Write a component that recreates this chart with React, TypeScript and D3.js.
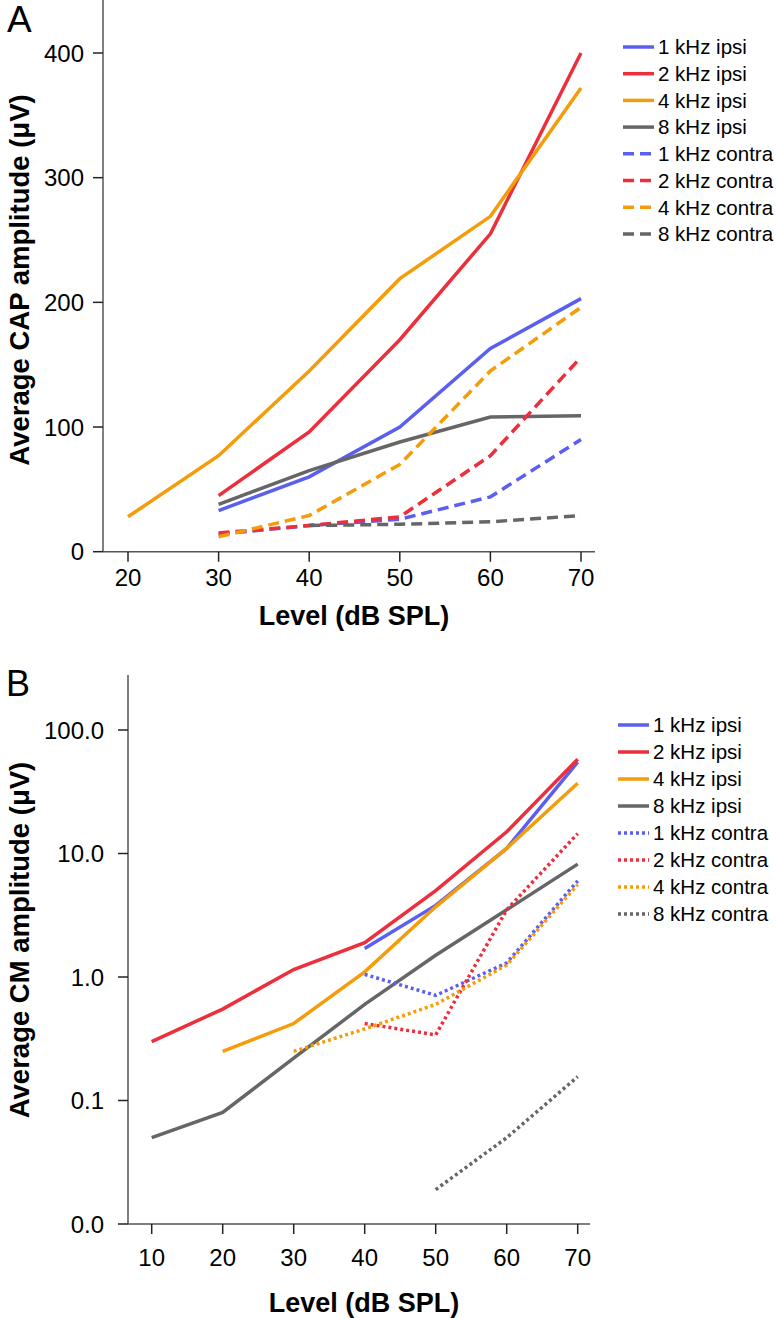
import React from "react";
import * as d3 from "d3";

// ---- data ----
const seriesNames = ["1 kHz ipsi", "2 kHz ipsi", "4 kHz ipsi", "8 kHz ipsi", "1 kHz contra", "2 kHz contra", "4 kHz contra", "8 kHz contra"];
const seriesColors = ["#5b5ff0", "#ec2f3b", "#f59c0a", "#666666", "#5b5ff0", "#ec2f3b", "#f59c0a", "#666666"];

// Panel A: CAP amplitude (µV)
const capLevels = [20, 30, 40, 50, 60, 70];
const cap1Ipsi = [null, 33, 60, 100, 163, 203];
const cap2Ipsi = [null, 45, 96, 170, 255, 400];
const cap4Ipsi = [28, 77, 145, 219, 269, 372];
const cap8Ipsi = [null, 38, 65, 88, 108, 109];
const cap1Contra = [null, 14, 21, 26, 44, 90];
const cap2Contra = [null, 15, 21, 28, 77, 156];
const cap4Contra = [null, 12, 29, 70, 145, 196];
const cap8Contra = [null, null, 21, 22, 24, 29];
const capTicks = [0, 100, 200, 300, 400];

// Panel B: CM amplitude (µV), log
const cmLevels = [10, 20, 30, 40, 50, 60, 70];
const cm1Ipsi = [null, null, null, 1.7, 3.8, 11, 55];
const cm2Ipsi = [0.3, 0.55, 1.15, 1.9, 5, 15, 58];
const cm4Ipsi = [null, 0.25, 0.42, 1.1, 3.7, 11, 37];
const cm8Ipsi = [0.05, 0.08, 0.22, 0.6, 1.5, 3.5, 8.2];
const cm1Contra = [null, null, null, 1.05, 0.71, 1.3, 6];
const cm2Contra = [null, null, null, 0.42, 0.34, 3.5, 14.5];
const cm4Contra = [null, null, 0.25, 0.38, 0.6, 1.25, 5.6];
const cm8Contra = [null, null, null, null, 0.019, 0.05, 0.156];
const cmTicks = [0.01, 0.1, 1, 10, 100];

const capSeries = [cap1Ipsi, cap2Ipsi, cap4Ipsi, cap8Ipsi, cap1Contra, cap2Contra, cap4Contra, cap8Contra];
const cmSeries = [cm1Ipsi, cm2Ipsi, cm4Ipsi, cm8Ipsi, cm1Contra, cm2Contra, cm4Contra, cm8Contra];

const FONT = "'Liberation Sans', Arial, Helvetica, sans-serif";

function Legend({ x, y, step, dash }: { x: number; y: number; step: number; dash: string }) {
  return (
    <g transform={`translate(${x},${y})`}>
      {seriesNames.map((name, i) => (
        <g key={name} transform={`translate(0,${i * step})`}>
          <line x1={0} x2={31} y1={0} y2={0} stroke={seriesColors[i]} strokeWidth={3.5}
            strokeDasharray={i >= 4 ? dash : undefined} />
          <text x={35} y={0} dy="0.36em" fontSize={20.5} fontFamily={FONT}>{name}</text>
        </g>
      ))}
    </g>
  );
}

export default function App() {
  // Panel A scales
  const xA = d3.scaleLinear().domain([20, 70]).range([128, 581]);
  const yA = d3.scaleLinear().domain([0, 400]).range([551.7, 53]);
  const axisALeft = 103;
  const axisABottom = 551.7;

  // Panel B scales
  const xB = d3.scaleLinear().domain([10, 70]).range([151.7, 577.7]);
  const yB = d3.scaleLog().domain([0.01, 100]).range([1224, 730]);
  const axisBLeft = 128;
  const axisBBottom = 1224;

  const lineA = d3.line<[number, number | null]>()
    .defined((d) => d[1] != null)
    .x((d) => xA(d[0]))
    .y((d) => yA(d[1] as number));
  const lineB = d3.line<[number, number | null]>()
    .defined((d) => d[1] != null)
    .x((d) => xB(d[0]))
    .y((d) => yB(d[1] as number));

  const axisColor = "#555";

  return (
    <svg width={776} height={1318} style={{ position: "absolute", left: 0, top: 0, background: "#fff" }}>
      {/* Panel A */}
      <text x={7} y={32} fontSize={37} fontFamily={FONT}>A</text>
      <line x1={axisALeft} x2={axisALeft} y1={0} y2={axisABottom} stroke={axisColor} strokeWidth={1.5} />
      <line x1={axisALeft} x2={595} y1={axisABottom} y2={axisABottom} stroke={axisColor} strokeWidth={1.5} />
      {capTicks.map((t) => (
        <g key={t}>
          <line x1={axisALeft - 10} x2={axisALeft} y1={yA(t)} y2={yA(t)} stroke="#222" strokeWidth={1.5} />
          <text x={axisALeft - 19} y={yA(t)} dy="0.36em" textAnchor="end" fontSize={24} fontFamily={FONT}>{t}</text>
        </g>
      ))}
      {capLevels.map((t) => (
        <g key={t}>
          <line x1={xA(t)} x2={xA(t)} y1={axisABottom} y2={axisABottom + 10} stroke="#222" strokeWidth={1.5} />
          <text x={xA(t)} y={axisABottom + 26} dy="0.36em" textAnchor="middle" fontSize={24} fontFamily={FONT}>{t}</text>
        </g>
      ))}
      <text x={354} y={625} textAnchor="middle" fontSize={27} fontWeight="bold" fontFamily={FONT}>Level (dB SPL)</text>
      <text transform="translate(29,280) rotate(-90)" textAnchor="middle" fontSize={27.5} fontWeight="bold" fontFamily={FONT}>Average CAP amplitude (μV)</text>
      {capSeries.map((s, i) => (
        <path key={i} d={lineA(capLevels.map((l, j) => [l, s[j]] as [number, number | null])) || ""}
          fill="none" stroke={seriesColors[i]} strokeWidth={3.5}
          strokeDasharray={i >= 4 ? "11,6" : undefined} />
      ))}
      <Legend x={623} y={47} step={26.7} dash="11,6" />

      {/* Panel B */}
      <text x={6} y={696} fontSize={36} fontFamily={FONT}>B</text>
      <line x1={axisBLeft} x2={axisBLeft} y1={675} y2={axisBBottom} stroke={axisColor} strokeWidth={1.5} />
      <line x1={axisBLeft} x2={590} y1={axisBBottom} y2={axisBBottom} stroke={axisColor} strokeWidth={1.5} />
      {cmTicks.map((t) => (
        <g key={t}>
          <line x1={axisBLeft - 10} x2={axisBLeft} y1={yB(t)} y2={yB(t)} stroke="#222" strokeWidth={1.5} />
          <text x={axisBLeft - 24} y={yB(t)} dy="0.36em" textAnchor="end" fontSize={24} fontFamily={FONT}>{d3.format(".1f")(t)}</text>
        </g>
      ))}
      {cmLevels.map((t) => (
        <g key={t}>
          <line x1={xB(t)} x2={xB(t)} y1={axisBBottom} y2={axisBBottom + 10} stroke="#222" strokeWidth={1.5} />
          <text x={xB(t)} y={axisBBottom + 33} dy="0.36em" textAnchor="middle" fontSize={24} fontFamily={FONT}>{t}</text>
        </g>
      ))}
      <text x={364} y={1312} textAnchor="middle" fontSize={27} fontWeight="bold" fontFamily={FONT}>Level (dB SPL)</text>
      <text transform="translate(29,940) rotate(-90)" textAnchor="middle" fontSize={27.5} fontWeight="bold" fontFamily={FONT}>Average CM amplitude (μV)</text>
      {cmSeries.map((s, i) => (
        <path key={i} d={lineB(cmLevels.map((l, j) => [l, s[j]] as [number, number | null])) || ""}
          fill="none" stroke={seriesColors[i]} strokeWidth={3.5}
          strokeDasharray={i >= 4 ? "3,3" : undefined} />
      ))}
      <Legend x={618} y={725} step={27} dash="3,3" />
    </svg>
  );
}
